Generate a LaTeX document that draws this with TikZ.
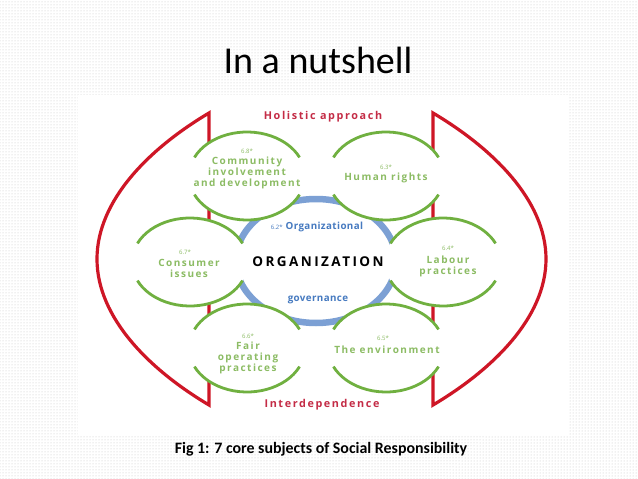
\documentclass[tikz,border=0pt]{standalone}
\usepackage{fontspec}
\setmainfont{Carlito}
\newfontfamily\labfont[LetterSpace=15]{Open Sans}
\newfontfamily\orgfont[LetterSpace=18]{Open Sans}
\newfontfamily\bluefont[LetterSpace=4]{Open Sans}
\newfontfamily\numfont{Open Sans}
\usetikzlibrary{patterns}
\definecolor{rline}{RGB}{206,22,38}
\definecolor{rtext}{RGB}{196,44,70}
\definecolor{garcc}{RGB}{112,176,64}
\definecolor{gtext}{RGB}{140,188,100}
\definecolor{bring}{RGB}{124,160,212}
\definecolor{btext}{RGB}{70,122,192}
\tikzset{
  redshape/.style={draw=rline,line width=3.2pt,line join=miter},
  garc/.style={draw=garcc,line width=2.8pt},
  bluering/.style={draw=bring,line width=6.5pt},
  glabel/.style={text=gtext,font=\labfont\bfseries\fontsize{10}{11}\selectfont,align=center,inner sep=0pt},
  gnum/.style={text=gtext,font=\numfont\fontsize{6}{6}\selectfont,inner sep=0pt},
  rlabel/.style={text=rtext,font=\labfont\bfseries\fontsize{10.8}{12}\selectfont,inner sep=0pt},
  blabel/.style={text=btext,font=\bluefont\bfseries\fontsize{9.8}{11}\selectfont,inner sep=0pt},
}
\newcommand\ringarcs[1]{%
  \draw[garc] (#1) ++(25:58 and 44) arc[start angle=25,end angle=155,x radius=58,y radius=44];
  \draw[garc] (#1) ++(205:58 and 44) arc[start angle=205,end angle=335,x radius=58,y radius=44];}
\begin{document}
\begin{tikzpicture}[x=1pt,y=-1pt]
\useasboundingbox (0,0) rectangle (638,479);
\fill[white] (0,0) rectangle (638,479);
\fill[pattern=dots,pattern color=gray!45] (0,0) rectangle (638,479);
\fill[white] (78,95) rectangle (568,436);

% title and caption
\node[font=\fontsize{38}{40}\selectfont,anchor=base,inner sep=0pt] (title) at (318,73) {In a nutshell};
\node[font=\bfseries\fontsize{15.9}{17}\selectfont,anchor=base,inner sep=0pt] (caption) at (321,453) {Fig 1: 7 core subjects of Social Responsibility};

% red shapes
\coordinate (lt) at (209,113);
\coordinate (lm) at (97,259);
\coordinate (lb) at (209,405);
\coordinate (rt) at (433,113);
\coordinate (rm) at (546,259);
\coordinate (rb) at (433,405);
\draw[redshape] (lt) .. controls (150,148) and (97,200) .. (lm) .. controls (97,318) and (150,370) .. (lb) -- cycle;
\draw[redshape] (rt) .. controls (492,148) and (546,200) .. (rm) .. controls (546,318) and (492,370) .. (rb) -- cycle;

% blue ring
\coordinate (org) at (316,261);
\draw[bluering] (org) ellipse[x radius=80,y radius=62];

% circle centres
\coordinate (c1) at (247,176);
\coordinate (c2) at (386,176);
\coordinate (c3) at (190,262);
\coordinate (c4) at (443,262);
\coordinate (c5) at (247,348);
\coordinate (c6) at (386,348);

\foreach \cc in {c1,c2,c3,c4,c5,c6} {\fill[white] (\cc) ellipse[x radius=58,y radius=44];}
\foreach \cc in {c1,c2,c3,c4,c5,c6} {\ringarcs{\cc}}

% labels
\node[rlabel] (holistic) at (323,117) {Holistic approach};
\node[rlabel] (interdep) at (322,405) {Interdependence};
\node[blabel] (orgtop) at (317,227) {{\numfont\mdseries\fontsize{6}{6}\selectfont 6.2*} Organizational};
\node[blabel] (orgbot) at (318,300) {governance};
\node[font=\orgfont\bfseries\fontsize{13.5}{15}\selectfont,inner sep=0pt] (orgname) at (318,262) {ORGANIZATION};

\node[gnum] (n1) at (247,151) {6.8*};
\node[glabel] (l1) at (247,173) {Community\\involvement\\and development};
\node[gnum] (n2) at (386,167) {6.3*};
\node[glabel] (l2) at (386,178) {Human rights};
\node[gnum] (n3) at (185,252) {6.7*};
\node[glabel] (l3) at (189,268) {Consumer\\issues};
\node[gnum] (n4) at (448,248) {6.4*};
\node[glabel] (l4) at (448,266) {Labour\\practices};
\node[gnum] (n5) at (248,336) {6.6*};
\node[glabel] (l5) at (248,358) {Fair\\operating\\practices};
\node[gnum] (n6) at (383,338) {6.5*};
\node[glabel] (l6) at (387,350) {The environment};
\end{tikzpicture}
\end{document}
